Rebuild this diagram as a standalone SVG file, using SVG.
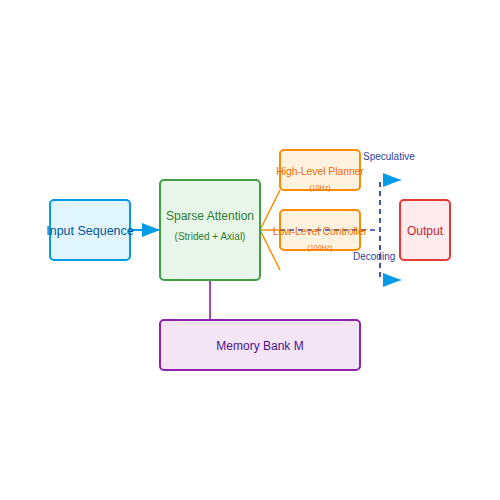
<svg xmlns="http://www.w3.org/2000/svg" width="500" height="500" viewBox="0 0 500 500">
<defs>
<style>
text{font-family:"Liberation Sans",Arial,sans-serif;text-anchor:middle}
.box{stroke-width:2}
.orange{stroke:#fb8c00;stroke-width:1.5;fill:none}
.dash{stroke:#3f51b5;stroke-width:2;stroke-dasharray:5,4;fill:none}
</style>
<marker id="arr" markerUnits="userSpaceOnUse" markerWidth="20" markerHeight="16" refX="18" refY="7" orient="auto">
<path d="M0,0 L18,7 L0,14 Z" fill="#039be5"/>
</marker>
</defs>
<rect width="500" height="500" fill="#fff"/>
<g id="connectors">
<line x1="130" y1="230" x2="160" y2="230" stroke="#039be5" stroke-width="2" marker-end="url(#arr)"/>
<line x1="210" y1="280" x2="210" y2="320" stroke="#ab47bc" stroke-width="2"/>
<line class="orange" x1="260" y1="230" x2="280" y2="190"/>
<line class="orange" x1="260" y1="230" x2="280" y2="230"/>
<line class="orange" x1="260" y1="230" x2="280" y2="270"/>
<line class="dash" x1="380" y1="182" x2="380" y2="278"/>
<line x1="383" y1="180" x2="401" y2="180" stroke="#039be5" stroke-width="1" marker-end="url(#arr)"/>
<line x1="383" y1="280" x2="401" y2="280" stroke="#039be5" stroke-width="1" marker-end="url(#arr)"/>
</g>
<g id="input">
<rect class="box" x="50" y="200" width="80" height="60" rx="4" fill="#e1f5fe" stroke="#039be5"/>
<text x="90" y="235" font-size="12.5" fill="#01579b">Input Sequence</text>
</g>
<g id="sparse">
<rect class="box" x="160" y="180" width="100" height="100" rx="4" fill="#e8f5e9" stroke="#43a047"/>
<text x="210" y="220" font-size="12" fill="#2e7d32">Sparse Attention</text>
<text x="210" y="240" font-size="10" fill="#2e7d32">(Strided + Axial)</text>
</g>
<g id="high">
<rect class="box" x="280" y="150" width="80" height="40" rx="4" fill="#fff3e0" stroke="#fb8c00"/>
<text x="320" y="175" font-size="10.3" fill="#ef6c00">High-Level Planner</text>
<text x="320" y="190" font-size="7" fill="#ef6c00">(10Hz)</text>
</g>
<g id="low">
<rect class="box" x="280" y="210" width="80" height="40" rx="4" fill="#fff3e0" stroke="#fb8c00"/>
<line class="dash" x1="280" y1="230" x2="380" y2="230" opacity="0.85"/>
<text x="320" y="235" font-size="10.3" fill="#ef6c00">Low-Level Controller</text>
<text x="320" y="250" font-size="7" fill="#ef6c00">(100Hz)</text>
</g>
<g id="output">
<rect class="box" x="400" y="200" width="50" height="60" rx="4" fill="#ffebee" stroke="#e53935"/>
<text x="425" y="235" font-size="12" fill="#c62828">Output</text>
</g>
<g id="memory">
<rect class="box" x="160" y="320" width="200" height="50" rx="4" fill="#f3e5f5" stroke="#8e24aa"/>
<text x="260" y="350" font-size="12" fill="#4a148c">Memory Bank M</text>
</g>
<g id="labels">
<text x="363" y="160" font-size="10" fill="#303f9f" style="text-anchor:start">Speculative</text>
<text x="353" y="260" font-size="10" fill="#303f9f" style="text-anchor:start">Decoding</text>
</g>
</svg>
